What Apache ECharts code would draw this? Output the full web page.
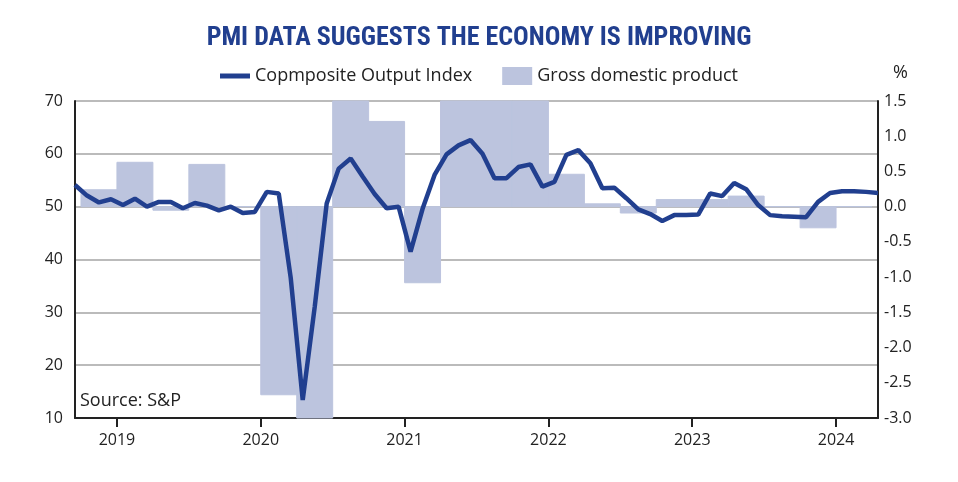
<!DOCTYPE html>
<html>
<head>
<meta charset="utf-8">
<script src="https://cdn.jsdelivr.net/npm/echarts@6/dist/echarts.min.js"></script>
<style>body{margin:0;background:#fff}#chart{width:958px;height:482px}</style>
</head>
<body>
<div id="chart"></div>
<script>
// monthly composite PMI, Sep 2018 .. Apr 2024
var pmiStart = [2018, 9];
var pmiValues = [
  54.1, 52.1, 50.8, 51.4,
  50.3, 51.5, 50.0, 50.9, 50.9, 49.7, 50.7, 50.2, 49.3, 50.0, 48.8, 49.0,
  52.8, 52.5, 36.5, 13.4, 31.0, 50.6, 57.2, 59.1, 55.7, 52.4, 49.7, 50.0,
  41.5, 49.6, 56.0, 59.9, 61.6, 62.6, 60.0, 55.4, 55.4, 57.5, 58.0, 53.8,
  54.7, 59.8, 60.7, 58.2, 53.5, 53.6, 51.6, 49.5, 48.6, 47.3, 48.4, 48.4,
  48.5, 52.5, 52.0, 54.5, 53.3, 50.3, 48.4, 48.2, 48.1, 48.0, 50.9, 52.6,
  52.9, 52.9, 52.8, 52.6
];
// quarterly GDP growth (%), Q4 2018 .. Q1 2024
var gdpQuarters = ['2018Q4','2019Q1','2019Q2','2019Q3','2019Q4','2020Q1','2020Q2','2020Q3','2020Q4',
  '2021Q1','2021Q2','2021Q3','2021Q4','2022Q1','2022Q2','2022Q3','2022Q4','2023Q1','2023Q2','2023Q3','2023Q4','2024Q1'];
var gdpValues = [0.24, 0.63, -0.05, 0.6, 0.0, -2.67, -19.0, 16.0, 1.21,
  -1.08, 6.5, 1.7, 1.6, 0.46, 0.04, -0.09, 0.1, 0.1, 0.15, 0.0, -0.3, 0.0];
var yearTicks = [2019, 2020, 2021, 2022, 2023, 2024];

var lineData = pmiValues.map(function (v, i) {
  var m = pmiStart[1] - 1 + i;
  return [pmiStart[0] + (m + 0.5) / 12, v];
});
var barData = gdpQuarters.map(function (q, i) {
  var y = +q.slice(0, 4), n = +q.slice(5);
  return [y + (n - 1) / 4, gdpValues[i]];
});
var xMin = lineData[0][0], xMax = lineData[lineData.length - 1][0];
var navy = '#213f8f';
var barColor = '#bcc4de';

var chart = echarts.init(document.getElementById('chart'));
chart.setOption({
  animation: false,
  textStyle: {fontFamily: 'Open Sans'},
  title: {
    text: 'PMI DATA SUGGESTS THE ECONOMY IS IMPROVING',
    left: 'center', top: 20,
    textStyle: {color: navy, fontSize: 26, fontWeight: 'bold', fontFamily: 'Roboto Condensed, Roboto, sans-serif'}
  },
  legend: {
    top: 62, left: 'center', itemGap: 30,
    textStyle: {fontSize: 18, color: '#222'},
    data: [
      {name: 'Copmposite Output Index', icon: 'path://M0,0H36V6H0Z', itemStyle: {color: navy}},
      {name: 'Gross domestic product', icon: 'rect', itemStyle: {color: barColor}}
    ],
    itemWidth: 30, itemHeight: 18
  },
  graphic: [
    {type: 'text', left: 893, top: 64, style: {text: '%', fontSize: 18, fill: '#222', fontFamily: 'Open Sans'}},
    {type: 'text', left: 80, top: 392, style: {text: 'Source: S&P', fontSize: 18, fill: '#222', fontFamily: 'Open Sans'}}
  ],
  grid: {left: 75, right: 80, top: 101, bottom: 64},
  xAxis: {
    type: 'value', min: xMin, max: xMax,
    splitLine: {show: false},
    axisLine: {onZero: false, lineStyle: {color: '#222', width: 2}},
    axisTick: {show: true, length: 9, lineStyle: {color: '#222', width: 2}, customValues: yearTicks},
    axisLabel: {fontSize: 16, color: '#222', margin: 14, customValues: yearTicks, formatter: function (v) { return v; }}
  },
  yAxis: [{
    type: 'value', min: 10, max: 70, interval: 10,
    axisLine: {show: true, lineStyle: {color: '#222', width: 2}},
    axisTick: {show: false},
    axisLabel: {fontSize: 16, color: '#222', margin: 12},
    splitLine: {lineStyle: {color: '#bbb', width: 2}}
  }, {
    type: 'value', min: -3, max: 1.5, interval: 0.5,
    axisLine: {show: true, lineStyle: {color: '#222', width: 2}},
    axisTick: {show: false},
    axisLabel: {fontSize: 16, color: '#222', margin: 6, formatter: function (v) { return v.toFixed(1); }},
    splitLine: {show: false}
  }],
  series: [{
    name: 'Gross domestic product',
    type: 'custom', yAxisIndex: 1, z: 1,
    itemStyle: {color: barColor},
    data: barData,
    encode: {x: 0, y: 1},
    renderItem: function (params, api) {
      var x0 = api.value(0), v = api.value(1);
      var p0 = api.coord([x0, 0]), p1 = api.coord([x0 + 0.25, v]);
      var rect = echarts.graphic.clipRectByRect({
        x: p0[0], y: Math.min(p0[1], p1[1]),
        width: p1[0] - p0[0], height: Math.abs(p1[1] - p0[1])
      }, {
        x: params.coordSys.x, y: params.coordSys.y,
        width: params.coordSys.width, height: params.coordSys.height
      });
      return rect && {type: 'rect', shape: rect, style: {fill: barColor, stroke: barColor, lineWidth: 1}};
    }
  }, {
    name: 'Copmposite Output Index',
    type: 'line', yAxisIndex: 0, z: 3,
    data: lineData, showSymbol: false,
    lineStyle: {color: navy, width: 4.5},
    itemStyle: {color: navy}
  }]
});
</script>
</body>
</html>
